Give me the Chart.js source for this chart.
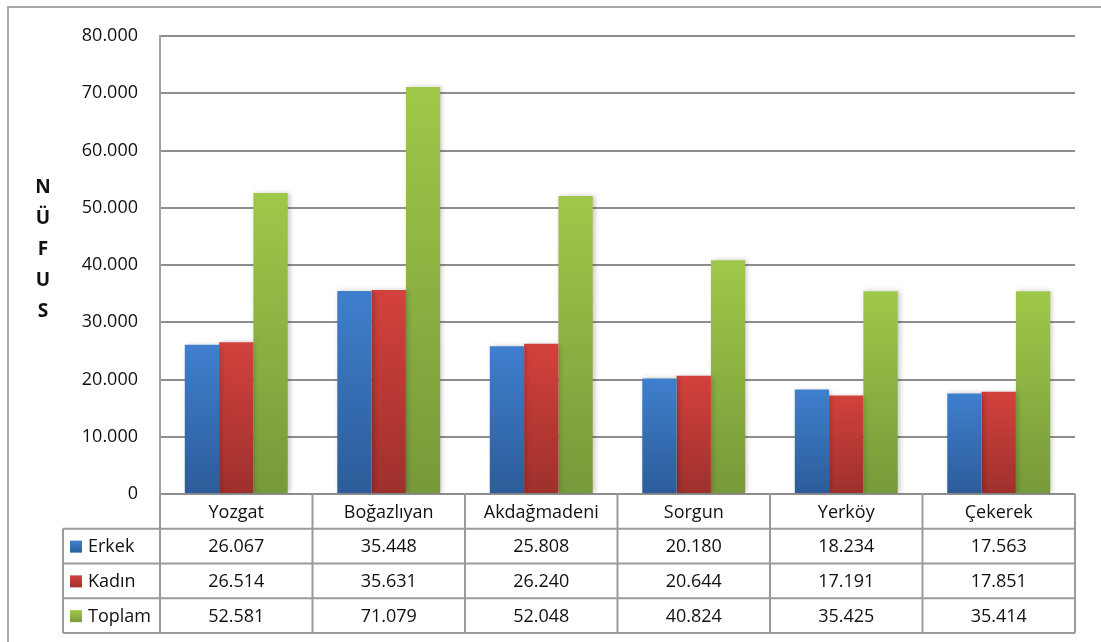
<!DOCTYPE html>
<html>
<head>
<meta charset="utf-8">
<script src="https://cdn.jsdelivr.net/npm/chart.js@4"></script>
<style>
  html, body { margin:0; padding:0; background:#fff; }
  #wrap { width:1101px; height:642px; }
</style>
</head>
<body>
<div id="wrap"><canvas id="chart" width="1101" height="642"></canvas></div>
<script>
// data
const categories = ['Yozgat', 'Boğazlıyan', 'Akdağmadeni', 'Sorgun', 'Yerköy', 'Çekerek'];
const erkek  = [26067, 35448, 25808, 20180, 18234, 17563];
const kadin  = [26514, 35631, 26240, 20644, 17191, 17851];
const toplam = [52581, 71079, 52048, 40824, 35425, 35414];
const seriesNames = ['Erkek', 'Kadın', 'Toplam'];
const yTicks = [0, 10000, 20000, 30000, 40000, 50000, 60000, 70000, 80000];
const axisTitle = ['N', 'Ü', 'F', 'U', 'S'];

const FONT = '"Open Sans", "Noto Sans", sans-serif';
const gradStops = [
  ['#3f7fce', '#2c5c99'],
  ['#d3413d', '#9e302c'],
  ['#9fc849', '#77993a']
];

function fmt(n){
  return String(n).replace(/\B(?=(\d{3})+(?!\d))/g, '.');
}

function barGradient(idx){
  return function(ctx){
    const chart = ctx.chart;
    const a = chart.chartArea;
    if(!a || ctx.type !== 'data') return gradStops[idx][0];
    const y = chart.scales.y.getPixelForValue(ctx.raw);
    const g = chart.ctx.createLinearGradient(0, y, 0, a.bottom);
    g.addColorStop(0, gradStops[idx][0]);
    g.addColorStop(1, gradStops[idx][1]);
    return g;
  };
}

// frame, shadow under bars, vertical axis title and the data table
const decorPlugin = {
  id: 'decor',
  beforeDraw(chart){
    const ctx = chart.ctx;
    ctx.save();
    ctx.strokeStyle = '#a8a8a8';
    ctx.lineWidth = 2;
    ctx.beginPath();
    ctx.moveTo(8, 642); ctx.lineTo(8, 7); ctx.lineTo(1101, 7);
    ctx.stroke();
    ctx.restore();
  },
  beforeDatasetsDraw(chart){
    const ctx = chart.ctx;
    ctx.save();
    ctx.shadowColor = 'rgba(0,0,0,0.22)';
    ctx.shadowBlur = 5;
    ctx.shadowOffsetX = 2;
    ctx.shadowOffsetY = 0;
  },
  afterDatasetsDraw(chart){
    chart.ctx.restore();
  },
  afterDraw(chart){
    const ctx = chart.ctx;
    const a = chart.chartArea;
    const x = chart.scales.x;
    const step = a.width / categories.length;
    const rowH = 34.75;
    const top = a.bottom;
    const legendLeft = 63;
    const rows = [erkek, kadin, toplam];

    ctx.save();
    // axis title, one letter per line
    ctx.fillStyle = '#111';
    ctx.font = 'bold 19px ' + FONT;
    ctx.textAlign = 'center';
    ctx.textBaseline = 'middle';
    axisTitle.forEach((ch, i) => ctx.fillText(ch, 43, 188 + i * 30.8));

    // table grid
    ctx.strokeStyle = '#9a9a9a';
    ctx.lineWidth = 2;
    ctx.beginPath();
    for(let r = 1; r <= 4; r++){
      const y = top + r * rowH;
      ctx.moveTo(legendLeft, y); ctx.lineTo(a.right, y);
    }
    ctx.moveTo(legendLeft, top + rowH); ctx.lineTo(legendLeft, top + 4 * rowH);
    for(let i = 0; i <= categories.length; i++){
      const xx = a.left + i * step;
      ctx.moveTo(xx, top); ctx.lineTo(xx, top + 4 * rowH);
    }
    ctx.stroke();

    // header
    ctx.fillStyle = '#111';
    ctx.font = '18px ' + FONT;
    ctx.textAlign = 'center';
    categories.forEach((c, i) => {
      ctx.fillText(c, x.getPixelForValue(i), top + rowH / 2 + 1);
    });
    // body
    rows.forEach((vals, r) => {
      const cy = top + (r + 1.5) * rowH + 1;
      vals.forEach((v, i) => ctx.fillText(fmt(v), x.getPixelForValue(i), cy));
      const g = ctx.createLinearGradient(0, cy - 6, 0, cy + 6);
      g.addColorStop(0, gradStops[r][0]);
      g.addColorStop(1, gradStops[r][1]);
      ctx.fillStyle = g;
      ctx.fillRect(70, cy - 6.5, 12, 12);
      ctx.fillStyle = '#111';
      ctx.textAlign = 'left';
      ctx.fillText(seriesNames[r], 88, cy);
      ctx.textAlign = 'center';
    });
    ctx.restore();
  }
};

new Chart(document.getElementById('chart'), {
  type: 'bar',
  data: {
    labels: categories,
    datasets: [
      { label: seriesNames[0], data: erkek,  backgroundColor: barGradient(0) },
      { label: seriesNames[1], data: kadin,  backgroundColor: barGradient(1) },
      { label: seriesNames[2], data: toplam, backgroundColor: barGradient(2) }
    ]
  },
  options: {
    responsive: false,
    animation: false,
    layout: { padding: { top: 36, right: 26, bottom: 148, left: 0 } },
    datasets: { bar: { barPercentage: 1, categoryPercentage: 0.675 } },
    plugins: { legend: { display: false }, tooltip: { enabled: false } },
    scales: {
      x: { display: false },
      y: {
        min: 0, max: 80000,
        afterBuildTicks: s => { s.ticks = yTicks.map(v => ({ value: v })); },
        afterFit: s => { s.width = 160; },
        border: { display: true, color: '#a0a0a0', width: 2 },
        grid: { color: '#8e8e8e', lineWidth: 2, drawTicks: false },
        ticks: {
          padding: 22,
          color: '#111',
          font: { family: FONT, size: 18 },
          callback: v => fmt(v)
        }
      }
    }
  },
  plugins: [decorPlugin]
});
</script>
</body>
</html>
